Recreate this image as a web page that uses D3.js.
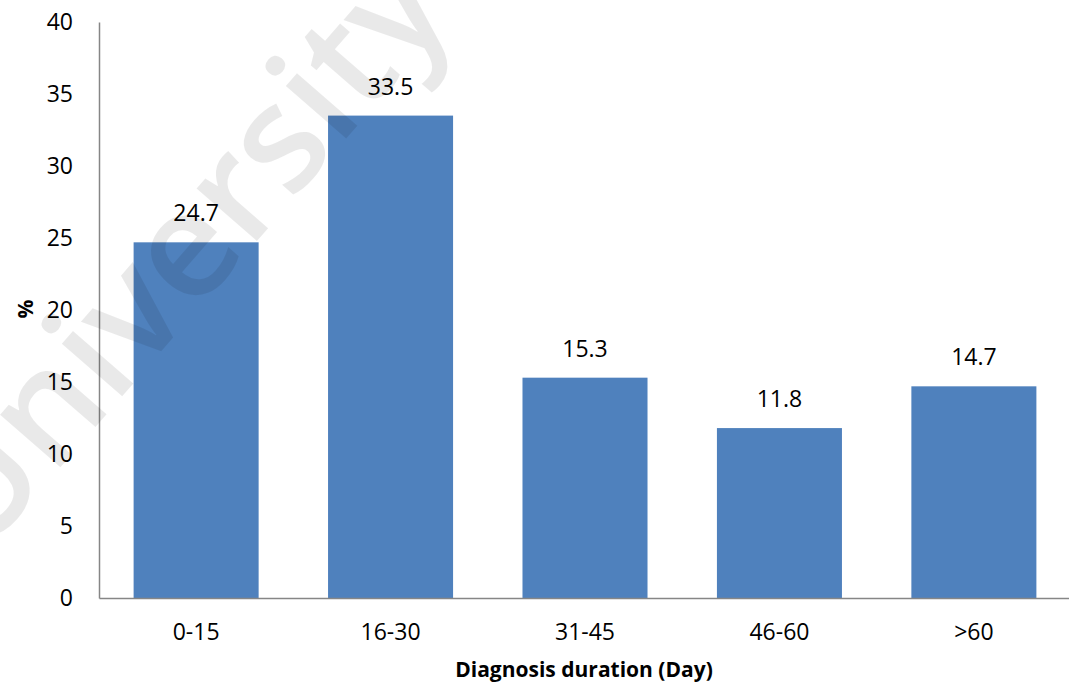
<!DOCTYPE html>
<html>
<head>
<meta charset="utf-8">
<script src="https://cdn.jsdelivr.net/npm/d3@7"></script>
<style>
  html, body { margin: 0; padding: 0; background: #fff; }
  svg { display: block; }
  text { font-family: "Open Sans", sans-serif; fill: #000; }
</style>
</head>
<body>
<svg id="chart" width="1069" height="683"></svg>
<script>
// Share of patients by diagnosis duration
const categories = ["0-15", "16-30", "31-45", "46-60", ">60"];
const percentages = [24.7, 33.5, 15.3, 11.8, 14.7];
const yTicks = [0, 5, 10, 15, 20, 25, 30, 35, 40];
const xTitle = "Diagnosis duration (Day)";
const yTitle = "%";
const watermark = "University";

const W = 1069, H = 683;
const margin = { top: 22, right: -2, bottom: 85, left: 99 };
const FONT = "'Open Sans', sans-serif";
const svg = d3.select("#chart");

const x = d3.scaleBand()
  .domain(categories)
  .range([margin.left, W - margin.right])
  .paddingInner(0.357)
  .paddingOuter(0.178);

const y = d3.scaleLinear()
  .domain([0, 40])
  .range([H - margin.bottom, margin.top]);

// bars
svg.append("g")
  .selectAll("rect")
  .data(percentages)
  .join("rect")
  .attr("x", (d, i) => x(categories[i]))
  .attr("y", d => y(d))
  .attr("width", x.bandwidth())
  .attr("height", d => y(0) - y(d))
  .attr("fill", "#4f81bd");

// value labels
svg.append("g")
  .selectAll("text")
  .data(percentages)
  .join("text")
  .attr("x", (d, i) => x(categories[i]) + x.bandwidth() / 2)
  .attr("y", d => y(d) - 21)
  .attr("text-anchor", "middle")
  .style("font-size", "23px")
  .text(d => d.toFixed(1));

// y axis
const yAxis = svg.append("g")
  .attr("transform", `translate(${margin.left},0)`)
  .call(d3.axisLeft(y).tickValues(yTicks).tickSize(0).tickPadding(26));
yAxis.select(".domain").attr("stroke", "#868686").attr("stroke-width", 1.5);
yAxis.selectAll("text").style("font-size", "23px").style("font-family", FONT).attr("fill", "#000");

// x axis
const xAxis = svg.append("g")
  .attr("transform", `translate(0,${y(0)})`)
  .call(d3.axisBottom(x).tickSize(0).tickPadding(26));
xAxis.select(".domain").attr("stroke", "#868686").attr("stroke-width", 1.5);
xAxis.selectAll("text").style("font-size", "23px").style("font-family", FONT).attr("fill", "#000");

// axis titles
svg.append("text")
  .attr("x", 584)
  .attr("y", 677)
  .attr("text-anchor", "middle")
  .style("font-size", "21px")
  .style("font-weight", "bold")
  .text(xTitle);

svg.append("text")
  .attr("transform", `translate(33,${y(20) - 1}) rotate(-90)`)
  .attr("text-anchor", "middle")
  .style("font-size", "21px")
  .style("font-weight", "bold")
  .text(yTitle);

// faint diagonal watermark laid over the plot
svg.append("text")
  .attr("transform", "translate(218,286) rotate(-49)")
  .attr("text-anchor", "middle")
  .style("font-size", "148px")
  .style("font-weight", 600)
  .attr("fill", "#000")
  .attr("fill-opacity", 0.085)
  .text(watermark);
</script>
</body>
</html>
